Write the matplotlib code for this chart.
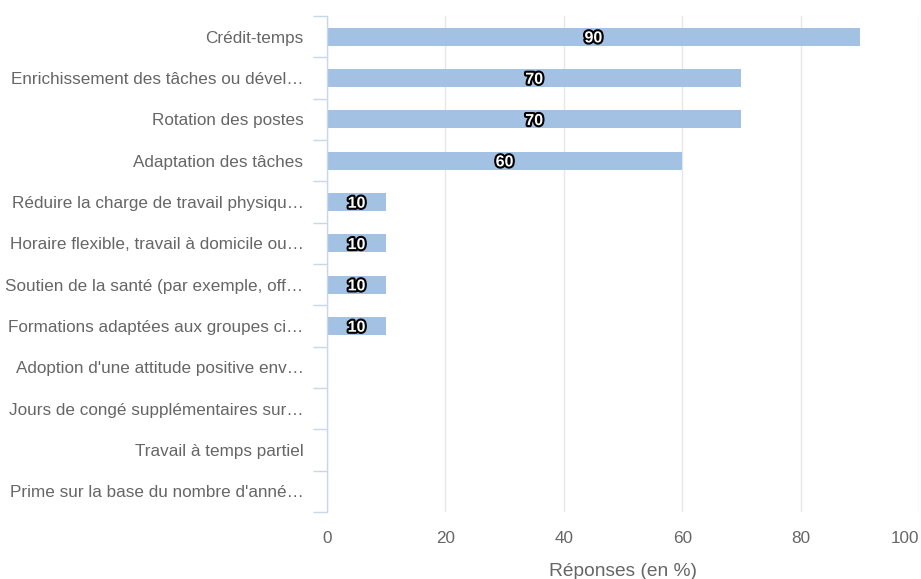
import matplotlib
matplotlib.use("Agg")
import matplotlib.pyplot as plt
import matplotlib.patheffects as pe

categories = [
    "Crédit-temps",
    "Enrichissement des tâches ou dével…",
    "Rotation des postes",
    "Adaptation des tâches",
    "Réduire la charge de travail physiqu…",
    "Horaire flexible, travail à domicile ou…",
    "Soutien de la santé (par exemple, off…",
    "Formations adaptées aux groupes ci…",
    "Adoption d'une attitude positive env…",
    "Jours de congé supplémentaires sur…",
    "Travail à temps partiel",
    "Prime sur la base du nombre d'anné…",
]
values = [90, 70, 70, 60, 10, 10, 10, 10, 0, 0, 0, 0]
x_ticks = [0, 20, 40, 60, 80, 100]
x_label = "Réponses (en %)"

plt.rcParams['font.family'] = ['Liberation Sans', 'DejaVu Sans']

fig = plt.figure(figsize=(9.21, 5.79), dpi=100)
ax = fig.add_axes([327/921, 1 - 512/579, (919-327)/921, (512-16)/579])

n = len(categories)
ypos = list(range(n))
bar_color = "#a2c1e3"
ax.barh(ypos, values, height=0.44, color=bar_color, linewidth=0, zorder=3)

for y, v in zip(ypos, values):
    if v > 0:
        ax.text(v / 2, y + 0.03, str(v), ha="center", va="center", fontsize=11.5, fontweight="bold",
                color="white", zorder=4,
                path_effects=[pe.withStroke(linewidth=3, foreground="black")])

ax.set_xlim(0, 100)
ax.set_ylim(n - 0.5, -0.5)
ax.set_xticks(x_ticks)
ax.set_xticklabels([str(t) for t in x_ticks], fontsize=12.3, color="#666666")
ax.get_xticklabels()[-1].set_horizontalalignment("right")
ax.tick_params(axis="x", length=0, pad=14)
ax.xaxis.grid(True, color="#e6e6e6", linewidth=1, zorder=0)
ax.set_axisbelow(True)

ax.set_yticks(ypos)
ax.set_yticklabels(categories, fontsize=12.3, color="#666666")
ax.tick_params(axis="y", length=0, pad=17)
ax.set_yticks([i - 0.5 for i in range(n + 1)], minor=True)
ax.tick_params(axis="y", which="minor", length=10, color="#ccd6eb", width=1)

for s in ["top", "right", "bottom"]:
    ax.spines[s].set_visible(False)
ax.spines["left"].set_color("#ccd6eb")
ax.spines["left"].set_linewidth(1)
ax.spines["left"].set_zorder(5)

ax.set_xlabel(x_label, fontsize=13.8, color="#666666", labelpad=12)

fig.savefig("out.png", dpi=100)
